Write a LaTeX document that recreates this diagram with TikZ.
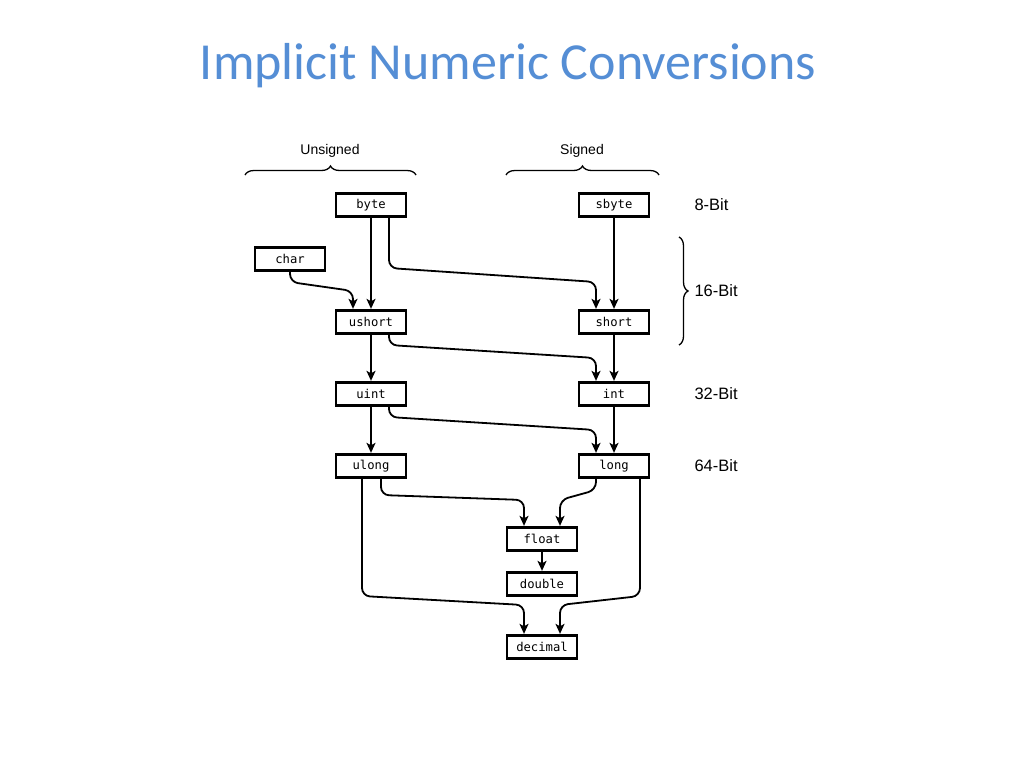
\documentclass[tikz,border=0pt]{standalone}
\usepackage{fontspec}
\setmainfont{Liberation Sans}
\newfontfamily\titlefont{Carlito}
\setmonofont{DejaVu Sans Mono}
\usetikzlibrary{arrows.meta,decorations.pathreplacing}
\definecolor{titleblue}{RGB}{85,142,213}
\begin{document}
\begin{tikzpicture}[x=1pt,y=-1pt,
  tbox/.style={draw,line width=2.8pt,minimum width=70pt,minimum height=23.5pt,inner sep=0pt,font=\ttfamily\fontsize{12.2}{14}\selectfont},
  conn/.style={line width=1.8pt,-{Stealth[length=10pt,width=9pt,inset=2.5pt]},rounded corners=8pt},
  lbl/.style={font=\fontsize{14}{16}\selectfont},
  bitlbl/.style={font=\fontsize{16.5}{18}\selectfont,anchor=west},
  brc/.style={line width=1.3pt,decorate,decoration={brace,amplitude=9pt}}]
\useasboundingbox (0,0) rectangle (1027,769);
\node[font=\titlefont\fontsize{52}{58}\selectfont,text=titleblue,anchor=base] (title) at (508,79) {Implicit Numeric Conversions};

\node[tbox] (byte) at (371,205) {byte};
\node[tbox] (sbyte) at (614,205) {sbyte};
\node[tbox] (char) at (290,259) {char};
\node[tbox] (ushort) at (371,322) {ushort};
\node[tbox] (short) at (614,322) {short};
\node[tbox] (uint) at (371,394) {uint};
\node[tbox] (int) at (614,394) {int};
\node[tbox] (ulong) at (371,466) {ulong};
\node[tbox] (long) at (614,466) {long};
\node[tbox] (float) at (542,539) {float};
\node[tbox] (double) at (542,584) {double};
\node[tbox] (decimal) at (542,647) {decimal};

\node[lbl] (unsig) at (330,151) {Unsigned};
\node[lbl] (sig) at (582,151) {Signed};
\node[bitlbl] (b8) at (691,205) {8-Bit};
\node[bitlbl] (b16) at (691,291) {16-Bit};
\node[bitlbl] (b32) at (691,394) {32-Bit};
\node[bitlbl] (b64) at (691,466) {64-Bit};

\coordinate (ua) at (245,175); \coordinate (ub) at (416,175);
\coordinate (sa) at (506,175); \coordinate (sb) at (659,175);
\coordinate (ra) at (679,237); \coordinate (rb) at (679,345);
\draw[brc] (ua) -- (ub);
\draw[brc] (sa) -- (sb);
\draw[brc] (ra) -- (rb);

% straight arrows
\draw[conn] (byte.south) -- (ushort.north);
\draw[conn] (sbyte.south) -- (short.north);
\draw[conn] (ushort.south) -- (uint.north);
\draw[conn] (short.south) -- (int.north);
\draw[conn] (uint.south) -- (ulong.north);
\draw[conn] (int.south) -- (long.north);
\draw[conn] (float.south) -- (double.north);

% curved arrows
\draw[conn] (byte.south -| 389,0) -- (389,268) -- (596,282) -- (short.north -| 596,0);
\draw[conn] (char.south) -- (290,282) -- (353,291) -- (ushort.north -| 353,0);
\draw[conn] (ushort.south -| 389,0) -- (389,345) -- (596,358) -- (int.north -| 596,0);
\draw[conn] (uint.south -| 389,0) -- (389,417) -- (596,430) -- (long.north -| 596,0);
\draw[conn] (ulong.south -| 381,0) -- (381,495) -- (524,500) -- (float.north -| 524,0);
\draw[conn] (long.south -| 596,0) -- (596,490) -- (560,500) -- (float.north -| 560,0);
\draw[conn] (ulong.south -| 362,0) -- (362,596) -- (524,605) -- (decimal.north -| 524,0);
\draw[conn] (long.south -| 640,0) -- (640,596) -- (560,605) -- (decimal.north -| 560,0);
\end{tikzpicture}
\end{document}
